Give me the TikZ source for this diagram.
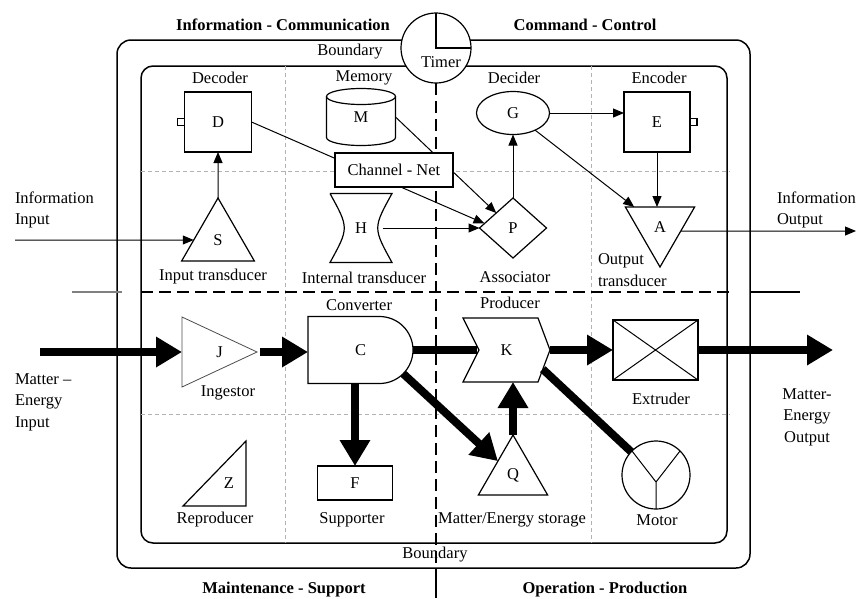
\documentclass[tikz,border=0pt]{standalone}
\usepackage{fontspec}
\setmainfont{Liberation Serif}
\usetikzlibrary{arrows.meta,positioning,shapes.geometric,calc,backgrounds}
\newcommand{\lblfont}{\fontsize{16.5}{21.5}\selectfont}

\begin{document}
\begin{tikzpicture}[
  x=1pt, y=1pt,
  every node/.style={font=\lblfont, inner sep=0pt, outer sep=0pt},
  box/.style={draw, line width=1.2pt, fill=white},
  outline/.style={line width=1.2pt},
  title/.style={font=\lblfont\bfseries},
  frame/.style={line width=1.5pt, rounded corners=14pt},
  split/.style={line width=1.3pt, dash pattern=on 12pt off 6pt},
  cell/.style={gray!60, line width=1pt, dash pattern=on 4pt off 3pt},
  arrow/.style={-{Triangle[length=11pt,width=9pt]}, line width=1pt},
  flow/.style={line width=8pt},
  flowarrow/.style={flow, -{Triangle[length=26pt,width=29pt]}}
]
\useasboundingbox (0,0) rectangle (856,-598);

% subsystems
\node[box, minimum width=67, minimum height=60] (D) at (218,-122) {D};
\node[box, minimum size=7, anchor=east] (Dport) at (D.west) {};
\node[box, minimum width=66, minimum height=60] (E) at (657,-122) {E};
\node[box, minimum size=7, anchor=west] (Eport) at (E.east) {};
\node[minimum width=69, minimum height=57] (M) at (361,-117) {M};
\node[box, minimum width=118, minimum height=34] (net) at (394,-170) {Channel - Net};
\node[minimum width=62, minimum height=69] (H) at (361,-228) {H};
\node[box, ellipse, minimum width=73, minimum height=43] (G) at (513,-113) {G};
\node[box, diamond, minimum width=67, minimum height=60] (P) at (513,-228) {P};
\node[box, regular polygon, regular polygon sides=3, minimum size=84] (S) at (218,-240) {S};
\node[box, regular polygon, regular polygon sides=3, shape border rotate=180, minimum size=80] (A) at (660,-227) {A};
\node[box, regular polygon, regular polygon sides=3, minimum size=80] (Q) at (513,-475) {Q};
\node[minimum width=75, minimum height=70] (J) at (219.5,-352) {J};
\node[minimum width=105, minimum height=67] (C) at (360.5,-350) {C};
\node[minimum width=87, minimum height=64] (K) at (506.5,-350) {K};
\node[box, minimum width=85, minimum height=60] (X) at (655.5,-350) {};
\node[box, minimum width=75, minimum height=34] (F) at (355,-483) {F};
\node (Z) at (229,-483) {Z};
\node[box, circle, minimum size=68] (motor) at (656,-475) {};
\node[box, circle, minimum size=70] (timer) at (436,-48) {};
\node (timerLbl) at (441,-62) {Timer};

% outlines of the drawn shapes
\draw[outline] ([yshift=-8pt]M.north west) -- ([yshift=8pt]M.south west)
  arc[start angle=180, end angle=360, x radius=34.5pt, y radius=8pt]
  -- ([yshift=-8pt]M.north east)
  arc[start angle=0, end angle=180, x radius=34.5pt, y radius=8pt];
\draw[outline] ([yshift=-8pt]M.north east) arc[start angle=0, end angle=-180, x radius=34.5pt, y radius=8pt];
\draw[outline] (H.north west) -- (H.north east) .. controls ([xshift=-19pt]H.east) .. (H.south east)
  -- (H.south west) .. controls ([xshift=19pt]H.west) .. (H.north west);
\draw[line width=0.8pt, gray!60!black] (J.north west) -- (J.east) -- (J.south west) -- cycle;
\draw[outline] (C.north west) -- ([xshift=-33.5pt]C.north east) arc[start angle=90, end angle=-90, radius=33.5pt] -- (C.south west) -- cycle;
\draw[outline] (K.north west) -- ([xshift=-12pt]K.north east) -- (K.east) -- ([xshift=-12pt]K.south east)
  -- (K.south west) -- ([xshift=16pt]K.west) -- cycle;
\draw[line width=1pt] (X.north west) -- (X.south east) (X.north east) -- (X.south west);
\draw[outline] (183,-506) -- (246,-441) -- (246,-506) -- cycle;
\coordinate (motorHub) at ([yshift=-7pt]motor.center);
\draw[line width=1pt] (motor.135) -- (motorHub) -- (motor.45) (motorHub) -- (motor.south);
\draw[outline] (timer.north) -- (timer.center) -- (timer.east);

% labels
\node[title] (infoCom) at (283,-25) {Information - Communication};
\node[title] (cmdCtl) at (585,-25) {Command - Control};
\node[title] (mainSup) at (284,-590) {Maintenance - Support};
\node[title] (opProd) at (605,-590) {Operation - Production};
\node (bndTop) at (350,-52) {Boundary};
\node (bndBot) at (435,-555) {Boundary};
\node (decoderLbl) at (220,-78) {Decoder};
\node (memoryLbl) at (364,-78) {Memory};
\node (deciderLbl) at (514,-78) {Decider};
\node (encoderLbl) at (659,-78) {Encoder};
\node (inTransLbl) at (213,-277) {Input transducer};
\node (intTransLbl) at (364,-278) {Internal transducer};
\node (assocLbl) at (515,-277) {Associator};
\node[anchor=west, align=left] (outTransLbl) at (598,-270) {Output\\transducer};
\node (convLbl) at (359,-305) {Converter};
\node (prodLbl) at (510,-303) {Producer};
\node (ingLbl) at (228,-393) {Ingestor};
\node (extLbl) at (661,-399) {Extruder};
\node (reproLbl) at (215,-520) {Reproducer};
\node (suppLbl) at (352,-520) {Supporter};
\node (storLbl) at (512,-520) {Matter/Energy storage};
\node (motorLbl) at (657,-520) {Motor};
\node[anchor=west, align=left] (infoInLbl) at (15,-210) {Information\\Input};
\node[anchor=west, align=left] (matterInLbl) at (15,-402) {Matter --\\Energy\\Input};
\node[anchor=west, align=left] (infoOutLbl) at (777,-210) {Information\\Output};
\node[align=center] (matterOutLbl) at (807,-417) {Matter-\\Energy\\Output};

% information flow
\coordinate (infoIn) at (15,-240);
\coordinate (infoOut) at (856,-231);
\draw[arrow] (infoIn) -- (S);
\draw[arrow] ($(A.corner 2)!0.4!(A.corner 1)$) -- (infoOut);
\draw[arrow] (S) -- (D);
\draw[arrow] (P) -- (G);
\draw[arrow] (G.east) -- (G.east -| E.west);
\draw[arrow] (E.south) -- (E.south |- A.north);
\draw[arrow] (G) -- (A);
\draw[arrow] ([xshift=-9.5pt]H.east) -- (P.west);

% matter-energy flow
\coordinate (matterIn) at (40,-352);
\coordinate (matterOut) at (833,-350);
\draw[flowarrow] (matterIn) -- (J.west);
\draw[flowarrow] ([xshift=3pt]J.east) -- (J.east -| C.west);
\draw[flow] (C.east) -- ([xshift=14pt]K.west);
\draw[flowarrow] (K.east) -- (X.west);
\draw[flowarrow] (X.east) -- (matterOut);
\draw[flowarrow] (F.north |- C.south) -- (F.north);
\draw[flowarrow] ($(C.east)+(-33.5,0)+(-45:33.5)$) -- (Q);
\draw[flowarrow] (Q.north) -- (Q.north |- K.south);
\draw[flow] ($(K.east)!0.6!([xshift=-12pt]K.south east)$) -- (motor);

% boundaries and sectors
\begin{scope}[on background layer]
\draw[frame] (117,-40) rectangle (750,-568);
\draw[frame, rounded corners=12pt] (141,-66) rectangle (727,-543);
\draw[cell] (285,-66) -- (285,-543);
\draw[cell] (591,-66) -- (591,-543);
\draw[cell] (141,-171) -- (730,-171);
\draw[cell] (141,-414) -- (730,-414);
\draw[split] (141,-292) -- (732,-292);
\draw[split] (timer.south) -- (436,-568);
\draw[line width=1.3pt] (436,-568) -- (436,-598);
\draw[line width=1.3pt, gray] (72,-292) -- (122,-292);
\draw[line width=1.3pt] (750,-292) -- (800,-292);
\draw[arrow] (D.east) -- ($(P.west)!0.15!(P.north)$);
\draw[arrow] (M.east) -- (P.north west);
\end{scope}
\end{tikzpicture}
\end{document}
